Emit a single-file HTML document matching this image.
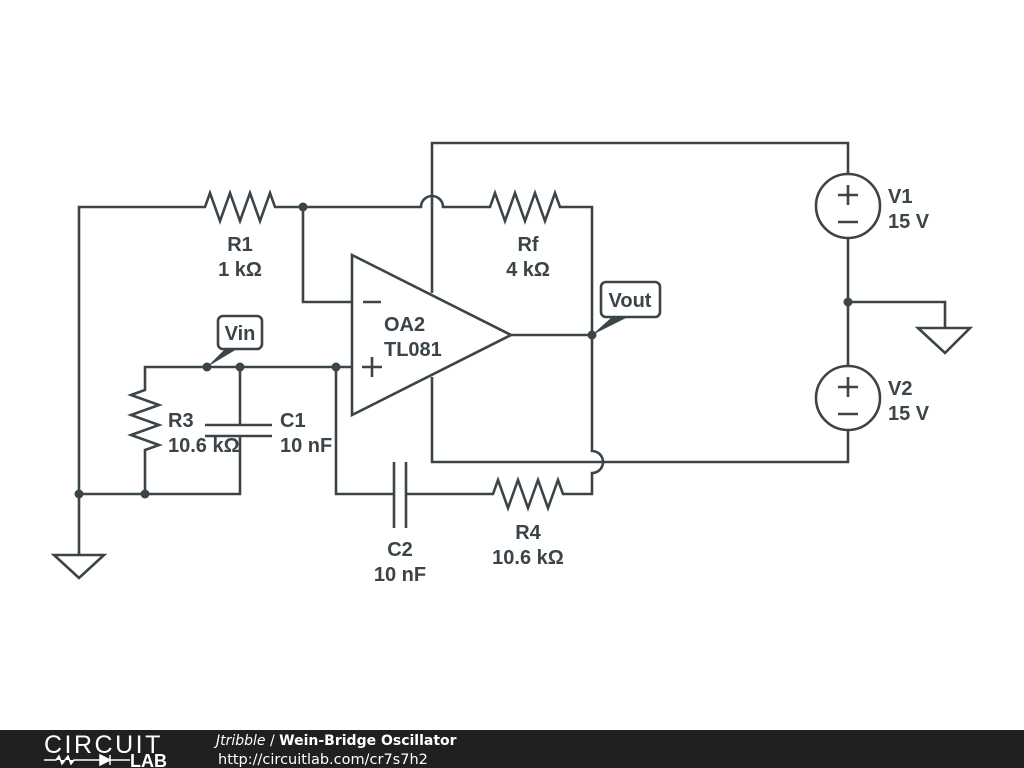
<!DOCTYPE html>
<html><head><meta charset="utf-8"><style>
html,body{margin:0;padding:0;background:#fff;width:1024px;height:768px;overflow:hidden}
svg{display:block}
text{font-family:"Liberation Sans",sans-serif;font-weight:bold;fill:#3a4449;font-size:20px}
</style></head><body>
<svg width="1024" height="768" viewBox="0 0 1024 768">
<g fill="none" stroke="#3a4449" stroke-width="2.6" stroke-linejoin="miter">
<path d="M79 555 V207 H205 l5 -14 l10 28 l10 -28 l10 28 l10 -28 l10 28 l10 -28 l5 14 H421 a11 11 0 0 1 22 0 H490 l5 -14 l10 28 l10 -28 l10 28 l10 -28 l10 28 l10 -28 l5 14 H592 V451 a11 11 0 0 1 0 22 V494 H563 l-5 -14 l-10 28 l-10 -28 l-10 28 l-10 -28 l-10 28 l-10 -28 l-5 14 H406"/>
<path d="M303 207 V302 H352"/>
<path d="M352 255 L511 335 L352 415 Z"/>
<path d="M511 335 H592"/>
<path d="M432 293 V143 H848 V174"/>
<path d="M432 377 V462 H848 V430"/>
<path d="M848 238 V366"/>
<path d="M848 302 H945 V328"/>
<path d="M918 328 H970 L945 353 Z"/>
<path d="M54 555 H104 L79 578 Z"/>
<circle cx="848" cy="206" r="32"/>
<circle cx="848" cy="398" r="32"/>
<path d="M838 195 H858 M848 185 V205 M838 222 H858"/>
<path d="M838 387 H858 M848 377 V397 M838 414 H858"/>
<path d="M363 302 H381 M362 367 H382 M372 357 V377"/>
<path d="M352 367 H145 V390 l-14 5 l28 10 l-28 10 l28 10 l-28 10 l28 10 l-14 5 V494 H79"/>
<path d="M240 367 V425 M205 425 H272 M205 436 H272 M240 436 V494 H145"/>
<path d="M336 367 V494 H394 M394 462 V528 M406 462 V528"/>
<rect x="218" y="316" width="44" height="33" rx="5" fill="#fff"/>
<rect x="601" y="282" width="59" height="35" rx="5" fill="#fff"/>
</g>
<g fill="#3a4449">
<path d="M207 367 L225 349 L237 349 Z"/>
<path d="M592 335 L612 317 L628 317 Z"/>
<circle cx="303" cy="207" r="4.5"/><circle cx="207" cy="367" r="4.5"/><circle cx="240" cy="367" r="4.5"/>
<circle cx="336" cy="367" r="4.5"/><circle cx="592" cy="335" r="4.5"/><circle cx="848" cy="302" r="4.5"/>
<circle cx="79" cy="494" r="4.5"/><circle cx="145" cy="494" r="4.5"/>
</g>
<text x="240" y="251" text-anchor="middle">R1</text>
<text x="240" y="276" text-anchor="middle">1 kΩ</text>
<text x="528" y="251" text-anchor="middle">Rf</text>
<text x="528" y="276" text-anchor="middle">4 kΩ</text>
<text x="384" y="331">OA2</text>
<text x="384" y="356">TL081</text>
<text x="168" y="427">R3</text>
<text x="168" y="452">10.6 kΩ</text>
<text x="280" y="427">C1</text>
<text x="280" y="452">10 nF</text>
<text x="400" y="556" text-anchor="middle">C2</text>
<text x="400" y="581" text-anchor="middle">10 nF</text>
<text x="528" y="539" text-anchor="middle">R4</text>
<text x="528" y="564" text-anchor="middle">10.6 kΩ</text>
<text x="888" y="203">V1</text>
<text x="888" y="228">15 V</text>
<text x="888" y="395">V2</text>
<text x="888" y="420">15 V</text>
<text x="240" y="340" text-anchor="middle">Vin</text>
<text x="630" y="307" text-anchor="middle">Vout</text>
<rect x="0" y="730" width="1024" height="38" fill="#1f2021"/>
<text x="44" y="753" style="font-weight:normal;font-size:25px;fill:#fff;letter-spacing:2.5px">CIRCUIT</text>
<path d="M44 760 H56 l3 -4 l3 8 l3 -4 l3 -4 l3 8 l3 -4 H100 M100 755 V765 L110 760 Z M110 755 V765 M110 760 H130" stroke="#fff" stroke-width="1.5" fill="#fff"/>
<text x="130" y="767" style="font-size:18px;fill:#fff">LAB</text>
<text x="216" y="745" style="font-family:'DejaVu Sans',sans-serif;font-size:14px;fill:#fff"><tspan style="font-style:italic;font-weight:normal">Jtribble</tspan><tspan style="font-weight:normal"> / </tspan>Wein-Bridge Oscillator</text>
<text x="218" y="764" style="font-family:'DejaVu Sans',sans-serif;font-size:14.5px;font-weight:normal;fill:#fff">http://circuitlab.com/cr7s7h2</text>
</svg>
</body></html>
